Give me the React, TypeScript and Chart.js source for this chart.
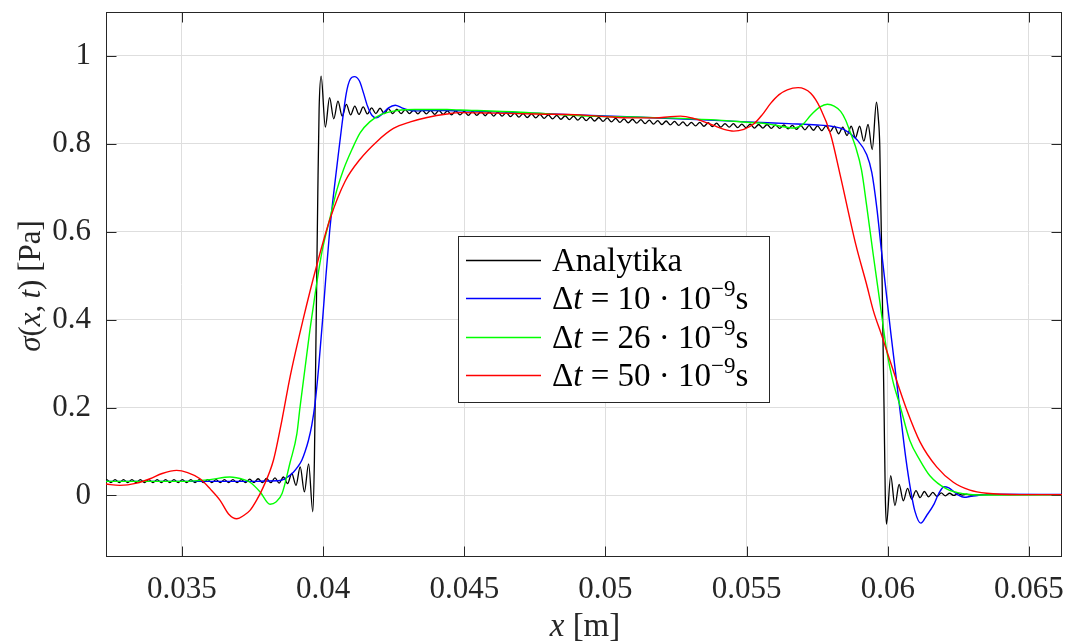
import React, { useEffect, useRef } from "react";
import { Chart, registerables } from "chart.js";

Chart.register(...registerables);

const SERIF = '"Liberation Serif", "Times New Roman", serif';
const AXIS_COLOR = "#262626";
const GRID_COLOR = "#dedede";

// x values are stored in millimetres; tick labels show metres (value / 1000)
const xTicksMm = [35, 40, 45, 50, 55, 60, 65];
const yTicks = [0, 0.2, 0.4, 0.6, 0.8, 1];
const analyticName = "Analytika";
const dtValues = [10, 26, 50];
const seriesColors = ["#000000", "#0000ff", "#00ff00", "#ff0000"];

// Analytika (black)
const analyticX = [
  32.185, 32.334, 32.483, 32.632, 32.781, 32.930, 33.079, 33.228, 33.377, 33.526,
  33.675, 33.824, 33.973, 34.122, 34.271, 34.420, 34.569, 34.718, 34.867, 35.016,
  35.165, 35.314, 35.463, 35.612, 35.761, 35.910, 36.059, 36.208, 36.357, 36.506,
  36.655, 36.804, 36.953, 37.102, 37.251, 37.400, 37.549, 37.698, 37.847, 37.996,
  38.145, 38.294, 38.443, 38.592, 38.741, 38.890, 39.039, 39.188, 39.337, 39.486,
  39.635, 39.691, 39.752, 39.812, 39.858,
  39.930, 40.079, 40.228, 40.377, 40.526, 40.675, 40.824, 40.973, 41.122, 41.271,
  41.420, 41.569, 41.718, 41.867, 42.016, 42.165, 42.314, 42.463, 42.612, 42.761,
  42.910, 43.059, 43.208, 43.357, 43.506, 43.655, 43.804, 43.953, 44.102, 44.251,
  44.400, 44.549, 44.698, 44.847, 44.996, 45.145, 45.294, 45.443, 45.592, 45.741,
  45.890, 46.039, 46.188, 46.337, 46.486, 46.635, 46.784, 46.933, 47.082, 47.231,
  47.380, 47.529, 47.678, 47.827, 47.976, 48.125, 48.274, 48.423, 48.572, 48.721,
  48.870, 49.019, 49.168, 49.317, 49.466, 49.615, 49.764, 49.913, 50.062, 50.211,
  50.360, 50.509, 50.658, 50.807, 50.956, 51.105, 51.254, 51.403, 51.552, 51.701,
  51.850, 51.999, 52.148, 52.297, 52.446, 52.595, 52.744, 52.893, 53.042, 53.191,
  53.340, 53.489, 53.638, 53.787, 53.936, 54.085, 54.234, 54.383, 54.532, 54.681,
  54.830, 54.979, 55.128, 55.277, 55.426, 55.575, 55.724, 55.873, 56.022, 56.171,
  56.320, 56.469, 56.618, 56.767, 56.916, 57.065, 57.214, 57.363, 57.512, 57.661,
  57.810, 57.959, 58.108, 58.257, 58.406, 58.555, 58.704, 58.853, 59.002, 59.151,
  59.300, 59.449, 59.598,
  59.663, 59.716, 59.798, 59.869, 59.911, 59.954,
  60.103, 60.252, 60.401, 60.550, 60.699, 60.848, 60.997, 61.146, 61.295, 61.444,
  61.593, 61.742, 61.891, 62.040, 62.189, 62.338, 62.487, 62.636, 62.785, 62.934,
  63.400, 66.300,
];
const analyticY = [
  0.029, 0.036, 0.029, 0.036, 0.029, 0.036, 0.029, 0.036, 0.029, 0.036,
  0.029, 0.036, 0.029, 0.036, 0.029, 0.036, 0.029, 0.036, 0.029, 0.036,
  0.029, 0.036, 0.029, 0.036, 0.029, 0.036, 0.029, 0.036, 0.029, 0.036,
  0.029, 0.036, 0.029, 0.036, 0.029, 0.037, 0.029, 0.038, 0.029, 0.039,
  0.029, 0.040, 0.028, 0.042, 0.027, 0.050, 0.023, 0.065, 0.008, 0.072,
  -0.037, 0.08, 0.384, 0.688, 0.878,
  0.954, 0.838, 0.905, 0.857, 0.897, 0.863, 0.890, 0.866, 0.886, 0.867,
  0.884, 0.868, 0.882, 0.869, 0.881, 0.869, 0.880, 0.869, 0.879, 0.869,
  0.878, 0.869, 0.877, 0.868, 0.877, 0.868, 0.876, 0.867, 0.876, 0.867,
  0.875, 0.866, 0.875, 0.866, 0.874, 0.865, 0.874, 0.865, 0.873, 0.864,
  0.873, 0.863, 0.872, 0.863, 0.871, 0.862, 0.870, 0.861, 0.869, 0.860,
  0.868, 0.859, 0.867, 0.858, 0.866, 0.857, 0.865, 0.856, 0.864, 0.855,
  0.863, 0.854, 0.862, 0.853, 0.861, 0.852, 0.860, 0.851, 0.859, 0.850,
  0.858, 0.849, 0.857, 0.848, 0.856, 0.847, 0.855, 0.846, 0.854, 0.845,
  0.853, 0.844, 0.852, 0.843, 0.851, 0.842, 0.850, 0.841, 0.849, 0.841,
  0.849, 0.840, 0.848, 0.839, 0.847, 0.838, 0.846, 0.838, 0.846, 0.837,
  0.845, 0.837, 0.845, 0.836, 0.844, 0.836, 0.844, 0.835, 0.843, 0.835,
  0.843, 0.834, 0.842, 0.833, 0.842, 0.832, 0.842, 0.831, 0.841, 0.830,
  0.841, 0.828, 0.840, 0.823, 0.838, 0.819, 0.840, 0.814, 0.840, 0.806,
  0.844, 0.787, 0.895,
  0.86, 0.795, 0.49, 0.19, 0.0, -0.065,
  0.045, -0.023, 0.025, -0.012, 0.016, -0.008, 0.011, -0.005, 0.009, -0.003,
  0.007, -0.002, 0.006, -0.001, 0.005, 0.0, 0.004, 0.001, 0.003, 0.001,
  0.002, 0.002,
];

// Δt = 10·10^-9 s (blue)
const dt10X = [
  32.3, 34.0, 36.0, 37.5, 38.0, 38.475, 38.759, 38.947, 39.113, 39.245,
  39.362, 39.479, 39.599, 39.716, 39.84, 39.982, 40.10, 40.23, 40.36, 40.49,
  40.66, 40.82, 40.96, 41.11, 41.287, 41.429, 41.571, 41.727, 41.879, 42.082,
  42.316, 42.553, 42.791, 43.025, 43.323, 43.677, 44.387, 45.0, 47.0, 49.0,
  51.0, 53.0, 55.0, 56.5, 57.5, 58.0, 58.44, 58.9, 59.255, 59.433,
  59.61, 59.77, 59.929, 60.106, 60.284, 60.461, 60.638, 60.816, 60.957, 61.17,
  61.383, 61.642, 61.809, 61.996, 62.163, 62.351, 62.518, 62.706, 62.943, 63.181,
  63.77, 66.3,
];
const dt10Y = [
  0.032, 0.032, 0.032, 0.032, 0.033, 0.034, 0.043, 0.053, 0.066, 0.08,
  0.10, 0.125, 0.16, 0.21, 0.29, 0.40, 0.50, 0.60, 0.68, 0.75,
  0.84, 0.915, 0.947, 0.953, 0.943, 0.916, 0.886, 0.865, 0.859, 0.867,
  0.882, 0.888, 0.882, 0.877, 0.875, 0.876, 0.876, 0.875, 0.871, 0.866,
  0.861, 0.856, 0.850, 0.846, 0.843, 0.840, 0.833, 0.81, 0.775, 0.735,
  0.655, 0.56, 0.47, 0.37, 0.275, 0.178, 0.085, 0.01, -0.035, -0.063,
  -0.045, -0.019, 0.005, 0.020, 0.017, 0.008, 0.0, -0.004, -0.002, 0.0,
  0.003, 0.002,
];

// Δt = 26·10^-9 s (green)
const dt26X = [
  32.3, 35.04, 35.99, 36.70, 37.2, 37.41, 37.77, 38.12, 38.33, 38.55,
  38.83, 39.07, 39.18, 39.36, 39.54, 39.72, 39.96, 40.25, 40.49, 40.72,
  41.02, 41.31, 41.65, 42.06, 42.65, 43.24, 44.39, 44.86, 47.0, 49.11,
  51.0, 52.66, 54.0, 55.0, 55.8, 56.2, 56.67, 57.0, 57.27, 57.6,
  57.86, 58.1, 58.33, 58.5, 58.65, 58.85, 59.07, 59.25, 59.48, 59.72,
  59.96, 60.18, 60.43, 60.78, 61.14, 61.49, 62.08, 62.67, 63.5, 66.3,
];
const dt26Y = [
  0.032, 0.032, 0.036, 0.042, 0.036, 0.030, 0.008, -0.020, -0.015, 0.005,
  0.075, 0.14, 0.20, 0.29, 0.38, 0.46, 0.555, 0.633, 0.696, 0.741,
  0.787, 0.825, 0.850, 0.867, 0.876, 0.878, 0.878, 0.877, 0.872, 0.864,
  0.861, 0.858, 0.854, 0.849, 0.845, 0.840, 0.836, 0.845, 0.865, 0.884,
  0.890, 0.886, 0.874, 0.855, 0.83, 0.795, 0.74, 0.66, 0.55, 0.44,
  0.33, 0.26, 0.205, 0.125, 0.08, 0.045, 0.015, 0.004, 0.001, 0.002,
];

// Δt = 50·10^-9 s (red)
const dt50X = [
  32.3, 32.8, 33.4, 33.87, 34.3, 34.81, 35.2, 35.64, 36.0, 36.35,
  36.65, 36.94, 37.2, 37.41, 37.65, 37.88, 38.24, 38.54, 38.83, 39.29,
  39.78, 40.25, 40.78, 41.31, 41.90, 42.49, 43.09, 43.68, 44.39, 44.86,
  46.0, 47.5, 49.11, 50.0, 50.89, 51.77, 52.3, 52.66, 53.12, 53.5,
  53.83, 54.2, 54.54, 54.9, 55.25, 55.55, 55.85, 56.15, 56.44, 56.82,
  57.27, 57.62, 57.98, 58.31, 58.87, 59.25, 59.49, 59.78, 60.19, 60.67,
  61.14, 61.73, 62.32, 62.91, 63.5, 64.68, 66.3,
];
const dt50Y = [
  0.026, 0.023, 0.028, 0.038, 0.050, 0.057, 0.052, 0.038, 0.015, -0.011,
  -0.042, -0.053, -0.045, -0.034, -0.01, 0.019, 0.08, 0.171, 0.27, 0.40,
  0.525, 0.63, 0.715, 0.765, 0.805, 0.835, 0.850, 0.860, 0.868, 0.871,
  0.870, 0.868, 0.866, 0.862, 0.859, 0.859, 0.862, 0.863, 0.858, 0.850,
  0.842, 0.833, 0.829, 0.833, 0.845, 0.866, 0.892, 0.912, 0.923, 0.928,
  0.915, 0.880, 0.820, 0.730, 0.570, 0.48, 0.42, 0.365, 0.285, 0.195,
  0.122, 0.065, 0.030, 0.012, 0.005, 0.002, 0.002,
];

function toPoints(xs: number[], ys: number[]) {
  const n = Math.min(xs.length, ys.length);
  const out: { x: number; y: number }[] = [];
  for (let i = 0; i < n; i++) out.push({ x: xs[i], y: ys[i] });
  return out;
}

type Seg = { t: string; italic?: boolean; size: number; dy?: number };

function segFont(s: Seg) {
  return `${s.italic ? "italic " : ""}${s.size}px ${SERIF}`;
}

function richWidth(ctx: CanvasRenderingContext2D, segs: Seg[]) {
  let w = 0;
  for (const s of segs) {
    ctx.font = segFont(s);
    w += ctx.measureText(s.t).width;
  }
  return w;
}

function drawRich(ctx: CanvasRenderingContext2D, x: number, y: number, segs: Seg[]) {
  let cx = x;
  ctx.textBaseline = "alphabetic";
  ctx.textAlign = "left";
  for (const s of segs) {
    ctx.font = segFont(s);
    ctx.fillText(s.t, cx, y + (s.dy || 0));
    cx += ctx.measureText(s.t).width;
  }
}

const overlayPlugin = {
  id: "matlabOverlay",
  beforeDatasetsDraw(chart: any) {
    const ctx: CanvasRenderingContext2D = chart.ctx;
    const { left, right, top, bottom } = chart.chartArea;
    const xs = chart.scales.x;
    const ys = chart.scales.y;
    const L = Math.round(left) + 0.5;
    const R = Math.round(right) - 0.5;
    const T = Math.round(top) + 0.5;
    const B = Math.round(bottom) - 0.5;
    ctx.save();
    ctx.strokeStyle = AXIS_COLOR;
    ctx.lineWidth = 1;
    ctx.beginPath();
    const tl = 10;
    for (const v of xTicksMm) {
      const p = Math.round(xs.getPixelForValue(v)) + 0.5;
      ctx.moveTo(p, B);
      ctx.lineTo(p, B - tl);
      ctx.moveTo(p, T);
      ctx.lineTo(p, T + tl);
    }
    for (const v of yTicks) {
      const p = Math.round(ys.getPixelForValue(v)) + 0.5;
      ctx.moveTo(L, p);
      ctx.lineTo(L + tl, p);
      ctx.moveTo(R, p);
      ctx.lineTo(R - tl, p);
    }
    ctx.stroke();
    ctx.strokeRect(L, T, R - L, B - T);
    ctx.restore();
  },
  afterDraw(chart: any) {
    const ctx: CanvasRenderingContext2D = chart.ctx;
    ctx.save();
    // Legend
    const bx = 458.5, by = 236.5, bw = 311, bh = 166;
    ctx.fillStyle = "#ffffff";
    ctx.fillRect(bx, by, bw, bh);
    ctx.strokeStyle = AXIS_COLOR;
    ctx.lineWidth = 1;
    ctx.strokeRect(bx, by, bw, bh);
    const rows = [260, 298, 337, 375];
    const fs = 33;
    const labels: Seg[][] = [
      [{ t: analyticName, size: fs }],
      ...dtValues.map((d) => [
        { t: "\u0394", size: fs },
        { t: "t", italic: true, size: fs },
        { t: ` = ${d} \u00b7 10`, size: fs },
        { t: "\u22129", size: 23, dy: -13 },
        { t: "s", size: fs },
      ]),
    ];
    rows.forEach((ry, i) => {
      ctx.strokeStyle = seriesColors[i];
      ctx.lineWidth = 1.3;
      ctx.beginPath();
      ctx.moveTo(466, ry + 0.5);
      ctx.lineTo(541, ry + 0.5);
      ctx.stroke();
      ctx.fillStyle = "#000000";
      drawRich(ctx, 552, ry + 11, labels[i]);
    });

    // Axis titles
    ctx.fillStyle = AXIS_COLOR;
    const xt: Seg[] = [
      { t: "x", italic: true, size: fs },
      { t: " [m]", size: fs },
    ];
    const xw = richWidth(ctx, xt);
    drawRich(ctx, 585 - xw / 2, 636, xt);

    const ys = 31;
    const yt: Seg[] = [
      { t: "\u03c3", italic: true, size: ys },
      { t: "(", size: ys },
      { t: "x", italic: true, size: ys },
      { t: ",\u2009", size: ys },
      { t: "t", italic: true, size: ys },
      { t: ")", size: ys },
      { t: " [Pa]", size: ys },
    ];
    const yw = richWidth(ctx, yt);
    ctx.translate(40, 286);
    ctx.rotate(-Math.PI / 2);
    drawRich(ctx, -yw / 2, 0, yt);
    ctx.restore();
  },
};

export default function App() {
  const ref = useRef<HTMLCanvasElement>(null);
  useEffect(() => {
    document.body.style.margin = "0";
    const canvas = ref.current;
    if (!canvas) return;
    const mk = (label: string, xs: number[], ys: number[], color: string, order: number, width: number) => ({
      label,
      data: toPoints(xs, ys),
      borderColor: color,
      backgroundColor: color,
      borderWidth: width,
      pointRadius: 0,
      fill: false,
      cubicInterpolationMode: "monotone" as const,
      order,
    });
    const chart = new Chart(canvas, {
      type: "line",
      data: {
        datasets: [
          mk(analyticName, analyticX, analyticY, seriesColors[0], 3, 1.3),
          mk(`dt=${dtValues[0]}`, dt10X, dt10Y, seriesColors[1], 2, 1.4),
          mk(`dt=${dtValues[1]}`, dt26X, dt26Y, seriesColors[2], 1, 1.4),
          mk(`dt=${dtValues[2]}`, dt50X, dt50Y, seriesColors[3], 0, 1.4),
        ],
      },
      options: {
        animation: false,
        responsive: false,
        devicePixelRatio: 1,
        layout: { padding: { left: 0, right: 4, top: 12, bottom: 0 } },
        plugins: { legend: { display: false }, tooltip: { enabled: false } },
        scales: {
          x: {
            type: "linear",
            min: 32.31,
            max: 66.17,
            afterBuildTicks: (s: any) => {
              s.ticks = xTicksMm.map((v) => ({ value: v }));
            },
            afterFit: (s: any) => {
              s.height = 86;
              s.paddingLeft = 0;
              s.paddingRight = 0;
            },
            grid: { color: GRID_COLOR, lineWidth: 1, drawTicks: false },
            border: { display: false },
            ticks: {
              padding: 14,
              color: AXIS_COLOR,
              autoSkip: false,
              maxRotation: 0,
              font: { family: SERIF, size: 31 },
              callback: (v: any) => String(Number(v) / 1000),
            },
          },
          y: {
            type: "linear",
            min: -0.14,
            max: 1.1,
            afterBuildTicks: (s: any) => {
              s.ticks = yTicks.map((v) => ({ value: v }));
            },
            afterFit: (s: any) => {
              s.width = 106;
              s.paddingTop = 0;
              s.paddingBottom = 0;
            },
            grid: { color: GRID_COLOR, lineWidth: 1, drawTicks: false },
            border: { display: false },
            ticks: {
              padding: 15,
              color: AXIS_COLOR,
              autoSkip: false,
              font: { family: SERIF, size: 31 },
              callback: (v: any) => String(v),
            },
          },
        },
      },
      plugins: [overlayPlugin],
    } as any);
    return () => chart.destroy();
  }, []);
  return (
    <div style={{ width: 1066, height: 643 }}>
      <canvas ref={ref} width={1066} height={643} style={{ display: "block" }} />
    </div>
  );
}
